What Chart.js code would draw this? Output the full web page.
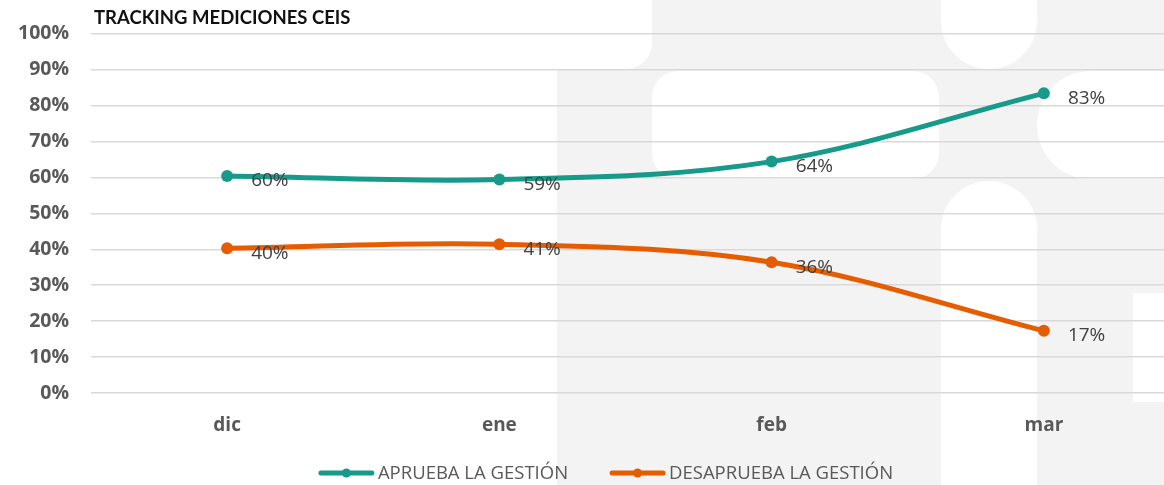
<!DOCTYPE html>
<html>
<head>
<meta charset="utf-8">
<script src="https://cdn.jsdelivr.net/npm/chart.js@4.4.1/dist/chart.umd.min.js"></script>
<style>
  html, body { margin: 0; padding: 0; background: #ffffff; overflow: hidden; width: 1164px; height: 485px; }
  #wrap { position: relative; width: 1208px; height: 485px; }
  canvas { display: block; }
</style>
</head>
<body>
<div id="wrap"><canvas id="c" width="1208" height="485"></canvas></div>
<script>
// ---- data ----
const chartTitle = "TRACKING MEDICIONES CEIS";
const categories = ["dic", "ene", "feb", "mar"];
const seriesNames = ["APRUEBA LA GESTIÓN", "DESAPRUEBA LA GESTIÓN"];
const apruebaValues = [60.4, 59.4, 64.4, 83.4];
const desapruebaValues = [40.3, 41.4, 36.4, 17.3];
const yTickValues = [0, 10, 20, 30, 40, 50, 60, 70, 80, 90, 100];

const TEAL = "#179a89";
const ORANGE = "#e65c00";

const watermark = {
  id: "watermark",
  beforeDraw(chart) {
    const ctx = chart.ctx;
    ctx.save();
    ctx.fillStyle = "#ffffff";
    ctx.fillRect(0, 0, chart.width, chart.height);
    ctx.fillStyle = "#f3f3f3";
    ctx.fillRect(557, 0, chart.width - 557, chart.height);
    ctx.fillStyle = "#ffffff";
    function rr(x, y, w, h, r) {
      ctx.beginPath();
      ctx.roundRect(x, y, w, h, r);
      ctx.fill();
    }
    rr(557, -40, 95, 109, [0, 0, 26, 0]);
    rr(652, 71, 287, 108, 26);
    rr(941, -60, 96, 129, [0, 0, 48, 48]);
    rr(1037, 71, 200, 108, [54, 0, 0, 54]);
    rr(941, 181, 96, 360, [48, 48, 0, 0]);
    ctx.fillRect(1133, 293, 100, 109);
    ctx.restore();
  }
};

const extras = {
  id: "extras",
  afterDatasetsDraw(chart) {
    const ctx = chart.ctx;
    ctx.save();
    // data labels
    ctx.font = "19px 'Open Sans'";
    ctx.fillStyle = "#404040";
    ctx.textAlign = "left";
    ctx.textBaseline = "middle";
    chart.data.datasets.forEach((ds, i) => {
      const meta = chart.getDatasetMeta(i);
      meta.data.forEach((pt, j) => {
        ctx.fillText(Math.round(ds.data[j]) + "%", pt.x + 24, pt.y + 5);
      });
    });
    ctx.restore();
  },
  afterDraw(chart) {
    const ctx = chart.ctx;
    ctx.save();
    // title
    ctx.font = "bold 18.5px Lato";
    ctx.fillStyle = "#111111";
    ctx.textAlign = "left";
    ctx.textBaseline = "middle";
    ctx.fillText(chartTitle, 94, 18);
    // legend
    ctx.font = "18.5px 'Open Sans'";
    const lineW = 55, gapText = 4, gapItems = 42;
    const items = chart.data.datasets.map(ds => ({ label: ds.label, color: ds.borderColor, w: lineW + gapText + ctx.measureText(ds.label).width }));
    const total = items.reduce((s, it) => s + it.w, 0) + gapItems * (items.length - 1);
    let x = 606 - total / 2;
    const y = 473;
    items.forEach(it => {
      ctx.strokeStyle = it.color;
      ctx.lineWidth = 5;
      ctx.lineCap = "round";
      ctx.beginPath();
      ctx.moveTo(x + 2, y);
      ctx.lineTo(x + lineW - 2, y);
      ctx.stroke();
      ctx.fillStyle = it.color;
      ctx.beginPath();
      ctx.arc(x + lineW / 2, y, 4.5, 0, Math.PI * 2);
      ctx.fill();
      ctx.fillStyle = "#595959";
      ctx.fillText(it.label, x + lineW + gapText, y + 1);
      x += it.w + gapItems;
    });
    ctx.restore();
  }
};

new Chart(document.getElementById("c"), {
  type: "line",
  data: {
    labels: categories,
    datasets: [
      { label: seriesNames[0], data: apruebaValues, borderColor: TEAL, backgroundColor: TEAL, pointBackgroundColor: TEAL, pointBorderColor: TEAL },
      { label: seriesNames[1], data: desapruebaValues, borderColor: ORANGE, backgroundColor: ORANGE, pointBackgroundColor: ORANGE, pointBorderColor: ORANGE }
    ]
  },
  options: {
    responsive: false,
    animation: false,
    layout: { padding: { left: 0, right: 28, top: 33, bottom: 0 } },
    elements: {
      line: { borderWidth: 5, tension: 0.35, borderCapStyle: "round" },
      point: { radius: 6, borderWidth: 0, hoverRadius: 6 }
    },
    plugins: { legend: { display: false }, title: { display: false }, tooltip: { enabled: false } },
    scales: {
      x: {
        type: "category",
        offset: true,
        grid: { display: false, drawTicks: false },
        border: { display: false },
        ticks: { padding: 21, color: "#595959", font: { family: "'Open Sans'", size: 19, weight: "bold" } },
        afterFit(scale) { scale.height = 92; }
      },
      y: {
        min: 0, max: 100,
        afterBuildTicks(scale) { scale.ticks = yTickValues.map(v => ({ value: v })); },
        grid: { color: "#d9d9d9", lineWidth: 1.5, drawTicks: false },
        border: { display: false },
        ticks: { padding: 22, color: "#595959", font: { family: "'Open Sans'", size: 19.5, weight: "bold" }, callback: v => v + "%" },
        afterFit(scale) { scale.width = 91; }
      }
    }
  },
  plugins: [watermark, extras]
});
</script>
</body>
</html>
